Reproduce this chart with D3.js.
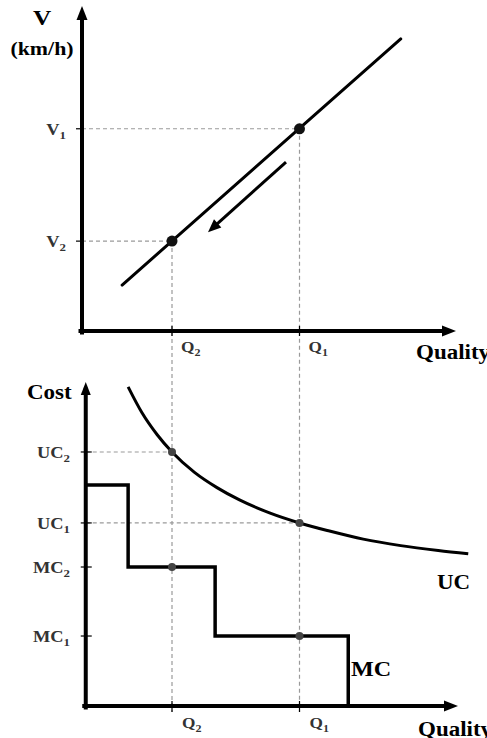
<!DOCTYPE html>
<html>
<head>
<meta charset="utf-8">
<script src="https://cdn.jsdelivr.net/npm/d3@7"></script>
<style>
  body { margin: 0; background: #fff; }
  svg { display: block; font-family: 'Liberation Serif', 'DejaVu Serif', serif; font-weight: bold; }
</style>
</head>
<body>
<svg id="chart" width="487" height="738"></svg>
<script>
// quality levels shared by both panels
const qualityLevels = [
  { label: 'Q', sub: '2', value: 24 },
  { label: 'Q', sub: '1', value: 58 }
];

// top panel: speed levels (same order as qualityLevels)
const speedLevels = [
  { label: 'V', sub: '2', value: 28 },
  { label: 'V', sub: '1', value: 63 }
];
const speedLine = [[10.7, 14.3], [85, 91]];
const shiftArrow = [[54.1, 52.3], [33.6, 30.8]];

// bottom panel: cost levels
const ucLevels = [
  { label: 'UC', sub: '2', value: 78.4 },
  { label: 'UC', sub: '1', value: 56.5 }
];
const mcLevels = [
  { label: 'MC', sub: '2', value: 42.9 },
  { label: 'MC', sub: '1', value: 21.6 }
];
// unit cost curve (quality, cost)
const ucCurve = [
  [12.3, 98.5], [16, 90.5], [20, 83.8], [24, 78.4], [30, 72.1], [36, 67.4],
  [42, 63.6], [50, 59.6], [58, 56.5], [66, 54.0], [75, 51.5], [85, 49.5],
  [95, 48.0], [103, 47.0]
];
// marginal cost steps (quality where step starts, cost level)
const mcSteps = [[1, 68.2], [12.3, 42.9], [35.5, 21.6], [71, 0]];

const svg = d3.select('#chart');
const STRETCH = 1.15;

// scales
const x = d3.scaleLinear().domain([0, 100]).range([82, 457]);
const yTop = d3.scaleLinear().domain([0, 100]).range([331, 10]);
const yBot = d3.scaleLinear().domain([0, 100]).range([706, 382]);

// draws a line with a filled arrowhead at (x2, y2)
function arrowLine(g, x1, y1, x2, y2, width, head, half) {
  const len = Math.hypot(x2 - x1, y2 - y1);
  g.append('line')
    .attr('x1', x1).attr('y1', y1)
    .attr('x2', x2 - (x2 - x1) / len * head * 0.6)
    .attr('y2', y2 - (y2 - y1) / len * head * 0.6)
    .attr('stroke', '#000').attr('stroke-width', width).attr('stroke-linecap', 'square');
  const a = Math.atan2(y2 - y1, x2 - x1);
  const bx = x2 - Math.cos(a) * head, by = y2 - Math.sin(a) * head;
  const px = -Math.sin(a) * half, py = Math.cos(a) * half;
  g.append('path')
    .attr('d', `M${x2},${y2}L${bx + px},${by + py}L${bx - px},${by - py}Z`)
    .attr('fill', '#000');
}

// text with optional subscript, horizontally stretched like the source
function label(g, px, py, main, sub, size, anchor, color) {
  const t = g.append('text')
    .attr('transform', `translate(${px},${py}) scale(${STRETCH},1)`)
    .attr('text-anchor', anchor || 'start')
    .attr('font-size', size)
    .attr('fill', color || '#000')
    .text(main);
  if (sub) {
    t.append('tspan').attr('font-size', size * 0.7).attr('dy', size * 0.25).text(sub);
  }
  return t;
}

function dashed(g, x1, y1, x2, y2) {
  g.append('line')
    .attr('x1', x1).attr('y1', y1).attr('x2', x2).attr('y2', y2)
    .attr('stroke', '#9a9a9a').attr('stroke-width', 1.2).attr('stroke-dasharray', '4,3');
}

// ---------- guide lines (dashed) ----------
const guides = svg.append('g');
qualityLevels.forEach((q, i) => {
  dashed(guides, x(q.value), yTop(speedLevels[i].value), x(q.value), 712);
  dashed(guides, x(0), yTop(speedLevels[i].value), x(q.value), yTop(speedLevels[i].value));
  dashed(guides, x(1), yBot(ucLevels[i].value), x(q.value), yBot(ucLevels[i].value));
});

// ---------- top panel ----------
const topPanel = svg.append('g');
arrowLine(topPanel, x(0), yTop(0) + 1.5, x(0), 6, 4, 14, 5.5);
arrowLine(topPanel, x(0) - 1.5, yTop(0), 456, yTop(0), 4, 14, 5.5);

// ticks
speedLevels.forEach(v => {
  topPanel.append('line').attr('x1', x(0) - 6).attr('x2', x(0))
    .attr('y1', yTop(v.value)).attr('y2', yTop(v.value))
    .attr('stroke', '#000').attr('stroke-width', 1.2);
  label(topPanel, 66, yTop(v.value) + 6, v.label, v.sub, 16, 'end', '#333');
});
qualityLevels.forEach(q => {
  topPanel.append('line').attr('x1', x(q.value)).attr('x2', x(q.value))
    .attr('y1', yTop(0) - 5).attr('y2', yTop(0) + 5)
    .attr('stroke', '#000').attr('stroke-width', 1.2);
  label(topPanel, x(q.value) + 9, 352, q.label, q.sub, 15, 'start', '#333');
});

const line = d3.line().x(d => x(d[0])).y(d => yTop(d[1]));
topPanel.append('path').attr('d', line(speedLine))
  .attr('fill', 'none').attr('stroke', '#000').attr('stroke-width', 3).attr('stroke-linecap', 'round');

// movement arrow
const a0 = shiftArrow[0], a1 = shiftArrow[1];
arrowLine(topPanel, x(a0[0]), yTop(a0[1]), x(a1[0]), yTop(a1[1]), 3, 13, 5.5);

topPanel.selectAll('circle.pt')
  .data(qualityLevels.map((q, i) => [q.value, speedLevels[i].value]))
  .join('circle')
  .attr('cx', d => x(d[0])).attr('cy', d => yTop(d[1]))
  .attr('r', 5.5).attr('fill', '#111');

label(topPanel, 42, 25, 'V', null, 22, 'middle');
label(topPanel, 42, 55, '(km/h)', null, 19, 'middle');
label(topPanel, 416, 359, 'Quality', null, 20, 'start');

// ---------- bottom panel ----------
const botPanel = svg.append('g');
arrowLine(botPanel, x(1), yBot(0) + 1.5, x(1), 382, 4, 13, 5);
arrowLine(botPanel, x(1) - 1.5, yBot(0), 458, yBot(0), 4, 14, 5.5);

ucLevels.concat(mcLevels).forEach(c => {
  botPanel.append('line').attr('x1', x(1) - 5).attr('x2', x(1) + 6)
    .attr('y1', yBot(c.value)).attr('y2', yBot(c.value))
    .attr('stroke', '#000').attr('stroke-width', 1.2);
  label(botPanel, 70, yBot(c.value) + 6, c.label, c.sub, 16, 'end', '#333');
});
qualityLevels.forEach(q => {
  botPanel.append('line').attr('x1', x(q.value)).attr('x2', x(q.value))
    .attr('y1', yBot(0) - 5).attr('y2', yBot(0) + 6)
    .attr('stroke', '#000').attr('stroke-width', 1.2);
  label(botPanel, x(q.value) + 10, 728, q.label, q.sub, 15, 'start', '#333');
});

const ucLine = d3.line().curve(d3.curveMonotoneX).x(d => x(d[0])).y(d => yBot(d[1]));
botPanel.append('path').attr('d', ucLine(ucCurve))
  .attr('fill', 'none').attr('stroke', '#000').attr('stroke-width', 3);

const mcLine = d3.line().curve(d3.curveStepAfter).x(d => x(d[0])).y(d => yBot(d[1]));
botPanel.append('path').attr('d', mcLine(mcSteps))
  .attr('fill', 'none').attr('stroke', '#000').attr('stroke-width', 3.5);

const botPts = [];
qualityLevels.forEach((q, i) => {
  botPts.push([q.value, ucLevels[i].value]);
  botPts.push([q.value, mcLevels[i].value]);
});
botPanel.selectAll('circle.pt')
  .data(botPts)
  .join('circle')
  .attr('cx', d => x(d[0])).attr('cy', d => yBot(d[1]))
  .attr('r', 4).attr('fill', '#444');

label(botPanel, 27, 399, 'Cost', null, 20, 'start');
label(botPanel, 437, 589, 'UC', null, 20, 'start');
label(botPanel, 351, 676, 'MC', null, 21, 'start');
label(botPanel, 418, 736, 'Quality', null, 20, 'start');
</script>
</body>
</html>
